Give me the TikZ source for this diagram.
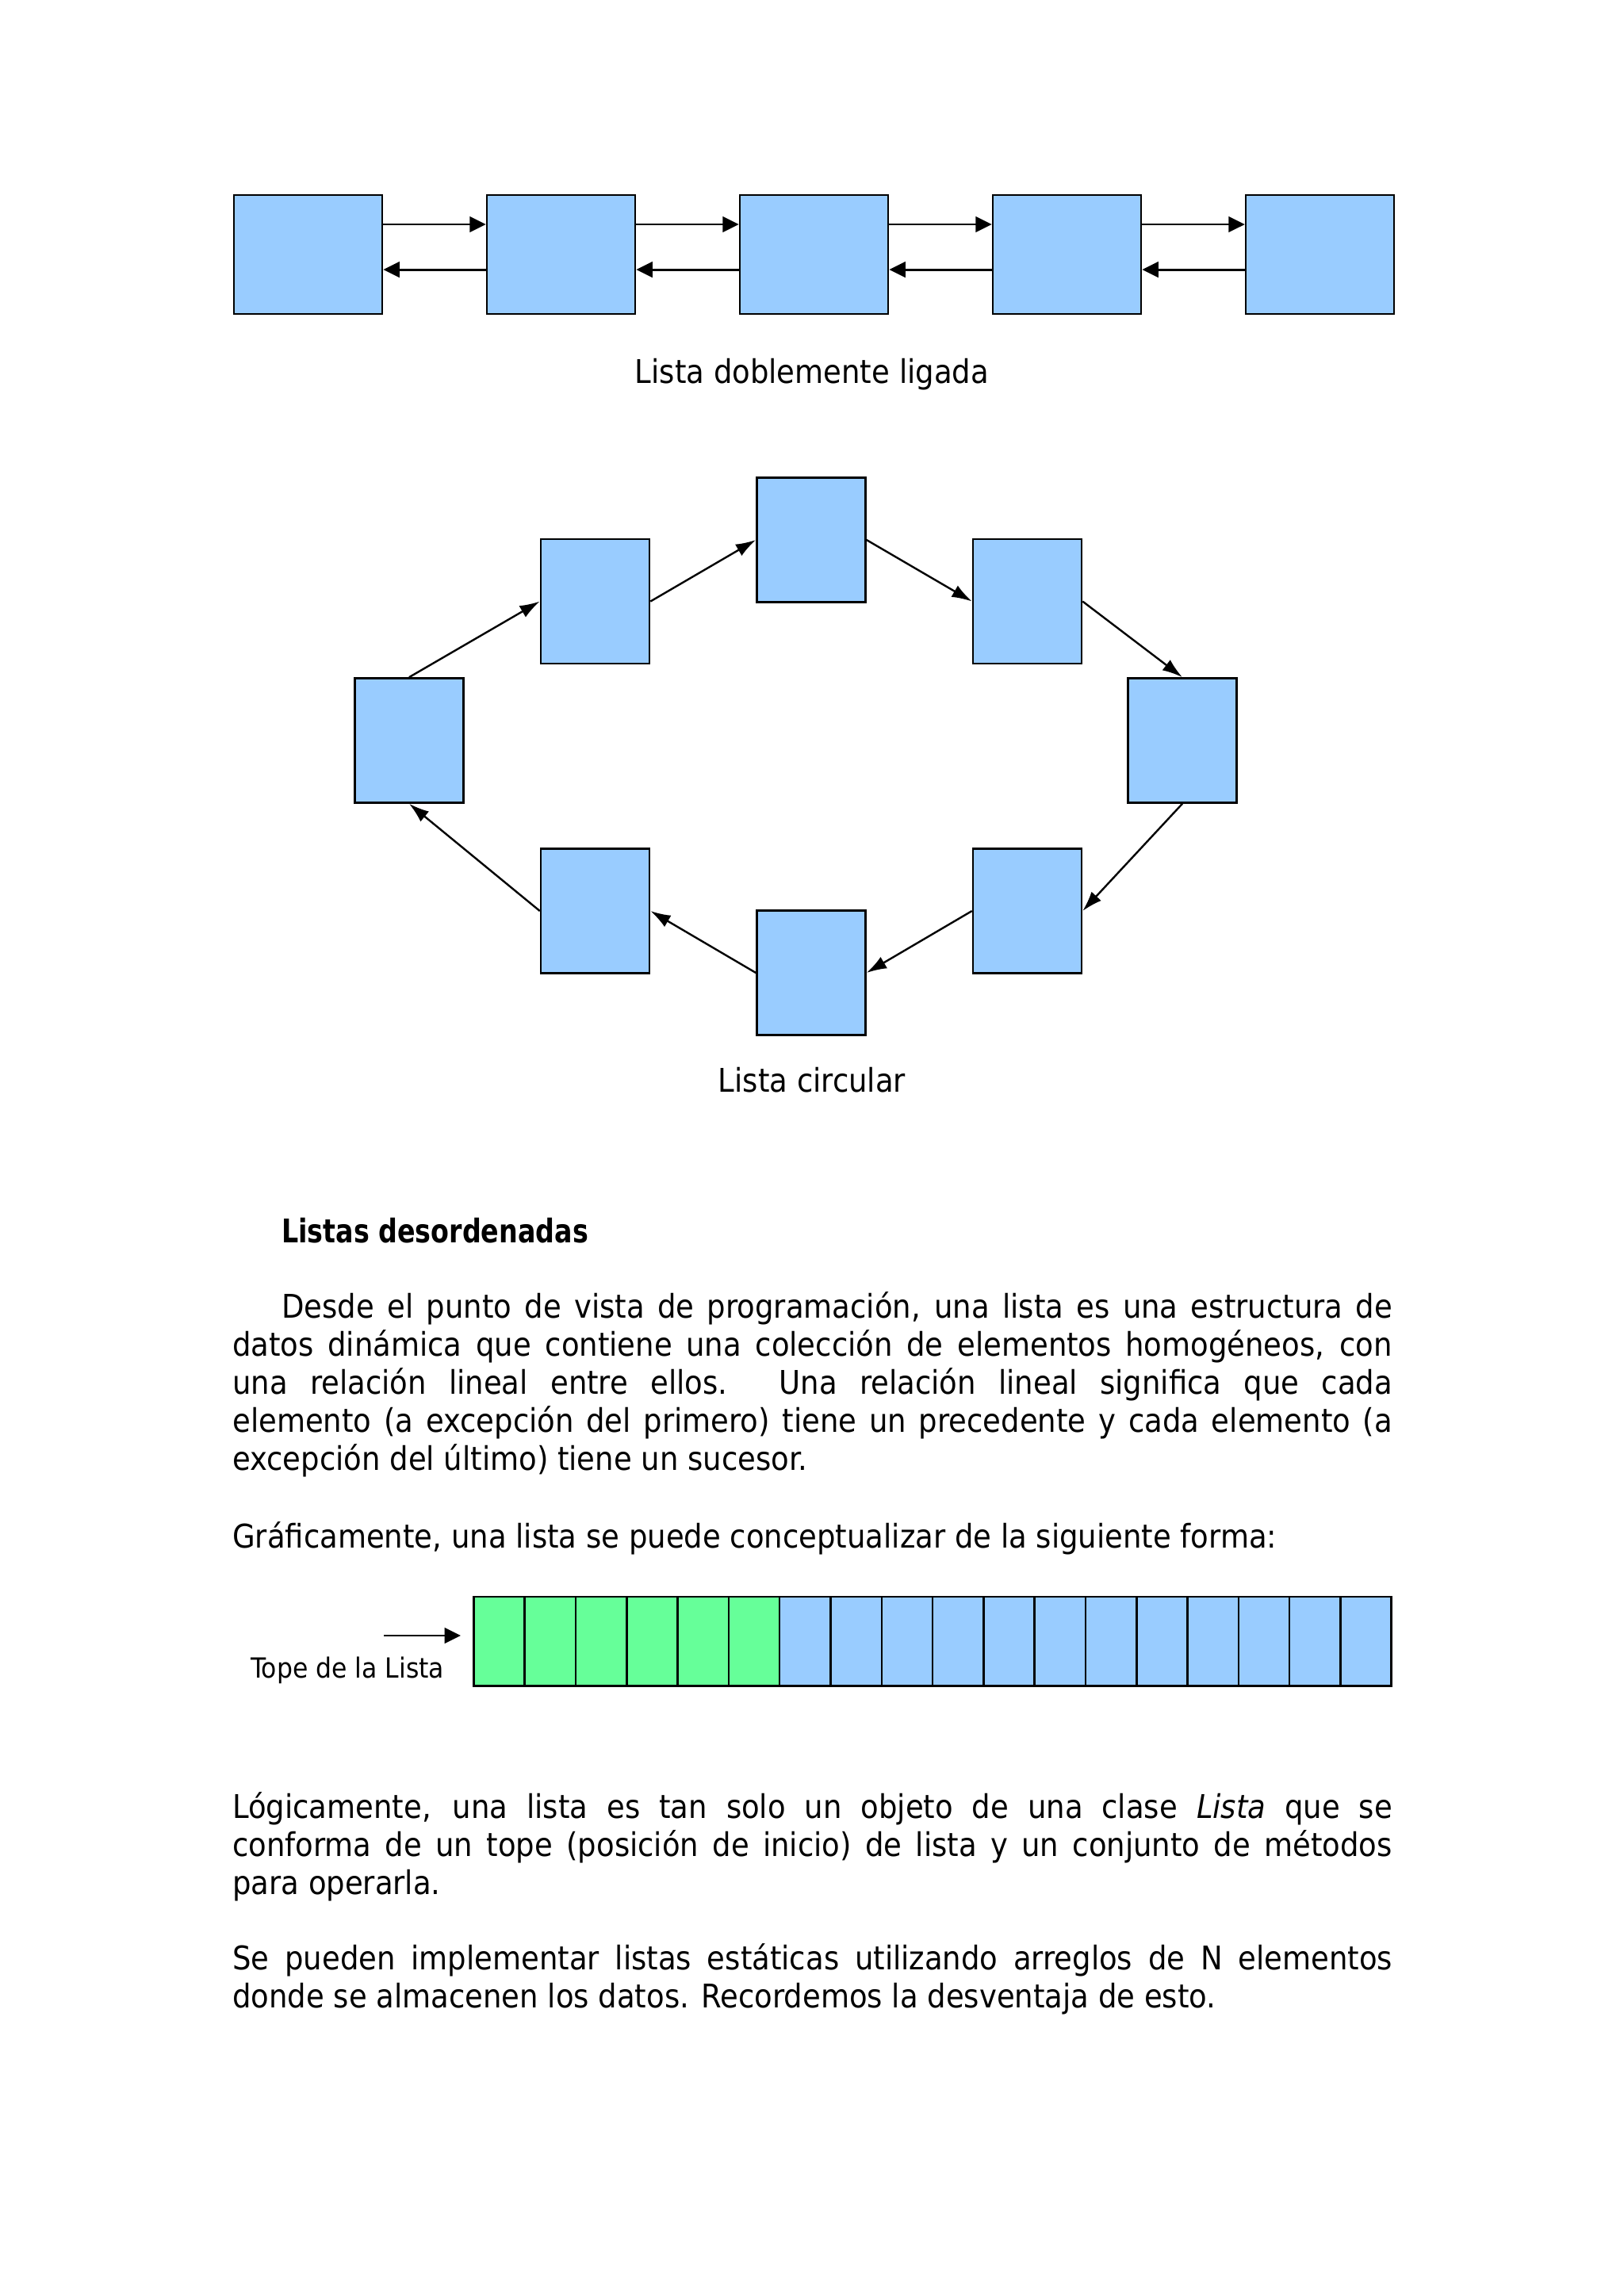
\documentclass[tikz,border=0pt]{standalone}
\usepackage{fontspec}
\setmainfont{DejaVu Sans Condensed}[BoldFeatures={FakeStretch=0.9}]
\usepackage{tikz}
\usetikzlibrary{positioning,arrows.meta}

\definecolor{box_blue}{HTML}{99CCFF}
\definecolor{box_green}{HTML}{66FF99}

\tolerance=10000
\hyphenpenalty=10000

\tikzset{
  list_box/.style={draw=black, line width=0.75pt, fill=box_blue, minimum width=1.918cm, minimum height=1.538cm, inner sep=0pt},
  ring_box/.style={draw=black, line width=0.75pt, fill=box_blue, minimum width=1.405cm, minimum height=1.610cm, inner sep=0pt},
  cell_box/.style={draw=black, line width=0.75pt, minimum width=0.6593cm, minimum height=1.156cm, inner sep=0pt},
  link_arrow/.style={line width=0.85pt, -{Triangle[length=0.21cm,width=0.2cm]}},
  ring_arrow/.style={line width=0.7pt, -{Latex[length=0.26cm,width=0.17cm]}},
  body_text/.style={inner sep=0pt, text width=15cm, align=justify, anchor=base west, font=\fontsize{12}{14}\selectfont},
  caption_text/.style={inner sep=0pt, anchor=base, font=\fontsize{12}{14}\selectfont},
}

\begin{document}
\begin{tikzpicture}
\useasboundingbox (0,0) rectangle (21,-29.696);

% lista doblemente ligada
\node[list_box] (dl_a) at (3.984,-3.292) {};
\node[list_box, right=1.327cm of dl_a] (dl_b) {};
\node[list_box, right=1.327cm of dl_b] (dl_c) {};
\node[list_box, right=1.327cm of dl_c] (dl_d) {};
\node[list_box, right=1.327cm of dl_d] (dl_e) {};
\draw[link_arrow] ([yshift=0.39cm]dl_a.east) -- ([yshift=0.39cm]dl_b.west);
\draw[link_arrow] ([yshift=0.39cm]dl_b.east) -- ([yshift=0.39cm]dl_c.west);
\draw[link_arrow] ([yshift=0.39cm]dl_c.east) -- ([yshift=0.39cm]dl_d.west);
\draw[link_arrow] ([yshift=0.39cm]dl_d.east) -- ([yshift=0.39cm]dl_e.west);
\draw[link_arrow] ([yshift=-0.195cm]dl_b.west) -- ([yshift=-0.195cm]dl_a.east);
\draw[link_arrow] ([yshift=-0.195cm]dl_c.west) -- ([yshift=-0.195cm]dl_b.east);
\draw[link_arrow] ([yshift=-0.195cm]dl_d.west) -- ([yshift=-0.195cm]dl_c.east);
\draw[link_arrow] ([yshift=-0.195cm]dl_e.west) -- ([yshift=-0.195cm]dl_d.east);
\node[caption_text] (dl_caption) at (10.5,-4.953) {Lista doblemente ligada};

% lista circular
\node[ring_box] (ring_top) at (10.490,-6.983) {};
\node[ring_box] (ring_ul) at (7.696,-7.778) {};
\node[ring_box] (ring_ur) at (13.284,-7.778) {};
\node[ring_box] (ring_l) at (5.291,-9.577) {};
\node[ring_box] (ring_r) at (15.289,-9.577) {};
\node[ring_box] (ring_ll) at (7.696,-11.782) {};
\node[ring_box] (ring_lr) at (13.284,-11.782) {};
\node[ring_box] (ring_bot) at (10.490,-12.582) {};
\draw[ring_arrow] (ring_l.north) -- (ring_ul.west);
\draw[ring_arrow] (ring_ul.east) -- (ring_top.west);
\draw[ring_arrow] (ring_top.east) -- (ring_ur.west);
\draw[ring_arrow] (ring_ur.east) -- (ring_r.north);
\draw[ring_arrow] (ring_r.south) -- (ring_lr.east);
\draw[ring_arrow] (ring_lr.west) -- (ring_bot.east);
\draw[ring_arrow] (ring_bot.west) -- (ring_ll.east);
\draw[ring_arrow] (ring_ll.west) -- (ring_l.south);
\node[caption_text] (ring_caption) at (10.5,-14.120) {Lista circular};

% texto
\node[inner sep=0pt, anchor=base west, font=\fontsize{12}{14}\selectfont\bfseries] (title_text) at (3.636,-16.078) {Listas desordenadas};
\node[body_text] (par_a) at (3.0,-17.052) {\hspace*{0.636cm}Desde el punto de vista de programación, una lista es una estructura de\linebreak
datos dinámica que contiene una colección de elementos homogéneos, con\linebreak
una relación lineal entre ellos. Una relación lineal significa que cada\linebreak
elemento (a excepción del primero) tiene un precedente y cada elemento (a\linebreak
excepción del último) tiene un sucesor.};
\node[body_text] (par_b) at (3.0,-20.016) {Gráficamente, una lista se puede conceptualizar de la siguiente forma:};

% arreglo
\foreach \i in {1,...,6}
  \node[cell_box, fill=box_green] (cell_\i) at ({6.126+(\i-0.5)*0.6593},-21.229) {};
\foreach \i in {7,...,18}
  \node[cell_box, fill=box_blue] (cell_\i) at ({6.126+(\i-0.5)*0.6593},-21.229) {};
\coordinate (tope_tail) at (4.963,-21.154);
\coordinate (tope_tip) at (5.958,-21.154);
\draw[link_arrow] (tope_tail) -- (tope_tip);
\node[inner sep=0pt, anchor=base west, font=\fontsize{10.2}{12}\selectfont] (tope_label) at (3.24,-21.698) {Tope de la Lista};

\node[body_text] (par_c) at (3.0,-23.513) {Lógicamente, una lista es tan solo un objeto de una clase \textit{Lista} que se\linebreak
conforma de un tope (posición de inicio) de lista y un conjunto de métodos\linebreak
para operarla.};
\node[body_text] (par_d) at (3.0,-25.481) {Se pueden implementar listas estáticas utilizando arreglos de N elementos\linebreak
donde se almacenen los datos. Recordemos la desventaja de esto.};
\end{tikzpicture}
\end{document}
